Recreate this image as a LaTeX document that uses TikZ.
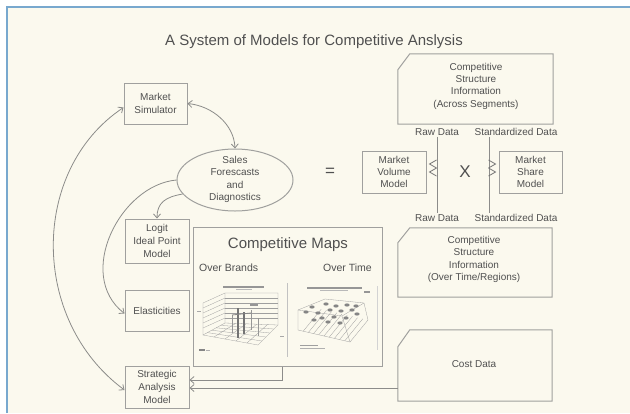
\documentclass[tikz,border=0pt]{standalone}
\usepackage{fontspec}
\setmainfont{Liberation Sans}
\usetikzlibrary{arrows.meta,calc,shapes.geometric}
\definecolor{paper}{RGB}{251,249,238}
\definecolor{frameblue}{RGB}{120,168,206}
\definecolor{ink}{RGB}{80,80,80}
\definecolor{edge}{RGB}{160,160,158}
\definecolor{wire}{RGB}{140,140,138}
\begin{document}
\begin{tikzpicture}[x=1pt,y=-1pt,
  every node/.style={text=ink, font=\fontsize{10}{12.3}\selectfont, inner sep=0pt},
  box/.style={draw=edge, line width=1pt, align=center},
  conn/.style={draw=wire, line width=0.8pt},
  chev/.style={draw=ink!80, line width=0.8pt},
  plot/.style={draw=ink!55, line width=0.3pt},
  blob/.style={fill=ink!70},
  >={Straight Barb[length=4pt,width=7pt]}]

% page and frame
\useasboundingbox (0,0) rectangle (630,413);
\fill[white] (0,0) rectangle (630,413);
\fill[paper] (7,7) rectangle (630,413);
\draw[frameblue, line width=1.6pt] (7,413) -- (7,7) -- (630,7);

% title
\node[font=\fontsize{15}{18}\selectfont] (title) at (314,42) {A System of Models for Competitive Anslysis};

% left column of models
\node[box, minimum width=63pt, minimum height=41pt] (ms) at (155.5,103.5) {Market\\Simulator};
\node[box, ellipse, minimum width=116pt, minimum height=62pt] (sf) at (235,180) {};
\node[align=center] (sftext) at (235,179.5) {Sales\\Forescasts\\and\\Diagnostics};
\node[box, minimum width=64pt, minimum height=44pt, font=\fontsize{10}{13}\selectfont] (lip) at (157,241) {Logit\\Ideal Point\\Model};
\node[box, minimum width=64pt, minimum height=41pt] (el) at (157,310.5) {Elasticities};
\node[box, minimum width=64pt, minimum height=42pt, font=\fontsize{10}{12.8}\selectfont] (sa) at (157,387) {Strategic\\Analysis\\Model};

% competitive maps panel
\node[box, minimum width=189pt, minimum height=139pt] (maps) at (287.5,296.5) {};
\node[font=\fontsize{15}{18}\selectfont] (mapstitle) at (288,245) {Competitive Maps};
\node[font=\fontsize{10.5}{12}\selectfont, anchor=west] (brands) at (199,268) {Over Brands};
\node[font=\fontsize{10.5}{12}\selectfont, anchor=east] (times) at (372,268) {Over Time};
\draw[plot, draw=ink!35, line width=0.5pt] (287,283) -- (287,357);
\draw[plot, draw=ink!25, line width=0.4pt] (377,286) -- (377,350);

% over brands: 3-D bar plot
\fill[ink!60] (223,286) rectangle (264,287.5);
\fill[ink!40] (236,289) rectangle (252,290);
\draw[plot] (203,303) -- (225,293) -- (278,293) -- (278,325) -- (258,345) -- (203,335) -- cycle;
\draw[plot] (225,293) -- (225,323) -- (203,335);
\draw[plot] (225,323) -- (278,325);
\foreach \k in {5,10,...,25} {
  \draw[plot] (225,293+\k) -- (278,293+\k);
  \draw[plot] (203,303+\k) -- (225,293+\k);
}
\foreach \t in {0.2,0.4,0.6,0.8} {
  \draw[plot] ($(225,323)!\t!(278,325)$) -- ($(203,335)!\t!(258,345)$);
  \draw[plot] ($(203,335)!\t!(225,323)$) -- ($(258,345)!\t!(278,325)$);
}
\draw[ink!80, line width=1.1pt] (238,308) -- (238,338);
\draw[ink!80, line width=1.1pt] (244,312) -- (244,334);
\draw[ink!60, line width=0.8pt] (232,315) -- (232,333);
\draw[ink!60, line width=0.8pt] (251,310) -- (251,330);
\draw[ink!60, line width=0.8pt] (258,318) -- (258,336);
\draw[ink!70, line width=0.8pt] (232,315) -- (251,313);
\fill[ink!60] (250,304) rectangle (258,306);
\fill[ink!70] (199,349) rectangle (205,351);
\fill[ink!45] (206,350) rectangle (210,351);
\fill[ink!50] (197,311) rectangle (201,312);
\fill[ink!50] (280,336) rectangle (284,337);

% over time: surface plot
\fill[ink!60] (307,287) rectangle (362,288.5);
\fill[ink!40] (320,290) rectangle (348,291);
\fill[ink!60] (364,291) rectangle (370,293);
\draw[plot] (298,310) -- (325,299) -- (364,303) -- (368,320) -- (350,342) -- (298,330) -- cycle;
\draw[plot] (298,310) -- (342,316) -- (364,303);
\draw[plot] (342,316) -- (350,342);
\foreach \t in {0.1,0.2,...,0.9} {
  \draw[plot] ($(298,330)!\t!(350,342)$) -- ++(18,-22);
}
\foreach \p in {(306,312),(312,307),(318,313),(326,304),(330,310),(336,306),(341,311),(347,305),(352,310),(322,318),(334,317),(346,318),(356,306),(314,320),(328,322),(340,323),(357,314)} {
  \fill[ink!70] \p ellipse (2.6pt and 1.6pt);
}
\fill[ink!55] (300,345) rectangle (318,346);
\fill[ink!45] (300,348) rectangle (325,349);

% share and volume models
\node[font=\fontsize{17}{18}\selectfont] (eq) at (330,172) {=};
\node[box, minimum width=64pt, minimum height=42pt] (mv) at (394,172) {Market\\Volume\\Model};
\node[font=\fontsize{17}{18}\selectfont] (times) at (465,172) {X};
\node[box, minimum width=63pt, minimum height=42pt] (msh) at (530.5,172) {Market\\Share\\Model};

% competitive structure information sources
\node[minimum width=155pt, minimum height=70pt] (csa) at (475.5,89) {};
\draw[draw=edge, line width=1pt] ($(csa.north west)+(0,16)$) -- ($(csa.north west)+(12,0)$) -- (csa.north east) -- (csa.south east) -- (csa.south west) -- cycle;
\node[align=center] (csatext) at (476,86) {Competitive\\Structure\\Information\\(Across Segments)};

\node[minimum width=154pt, minimum height=69pt] (csb) at (475,262.5) {};
\draw[draw=edge, line width=1pt] ($(csb.north west)+(0,15)$) -- ($(csb.north west)+(12,0)$) -- (csb.north east) -- (csb.south east) -- (csb.south west) -- cycle;
\node[align=center] (csbtext) at (474,259.5) {Competitive\\Structure\\Information\\(Over Time/Regions)};

\node[minimum width=154pt, minimum height=71pt] (cd) at (475,365.5) {};
\draw[draw=edge, line width=1pt] ($(cd.north west)+(0,17)$) -- ($(cd.north west)+(12,0)$) -- (cd.north east) -- (cd.south east) -- (cd.south west) -- cycle;
\node (cdtext) at (474,364) {Cost Data};

% data labels
\node (rawA) at (437,132) {Raw Data};
\node (stdA) at (516,132) {Standardized Data};
\node (rawB) at (437,218) {Raw Data};
\node (stdB) at (516,218) {Standardized Data};

% data feeds into the two models
\draw[conn] ([yshift=-1pt]rawA.south) -- ([yshift=1pt]rawB.north);
\draw[conn] ([xshift=-27pt,yshift=-1pt]stdA.south) -- ([xshift=-27pt,yshift=1pt]stdB.north);
\coordinate (vin) at ($(mv.east)+(3,-8)$);
\coordinate (sin) at ($(msh.west)+(-3,-8)$);
\draw[chev] ($(vin)+(7,-4)$) -- (vin) -- ($(vin)+(7,4)$);
\draw[chev] ($(vin)+(7,4)$) -- ($(vin)+(0,8)$) -- ($(vin)+(7,12)$);
\draw[chev] ($(sin)+(-7,-4)$) -- (sin) -- ($(sin)+(-7,4)$);
\draw[chev] ($(sin)+(-7,4)$) -- ($(sin)+(0,8)$) -- ($(sin)+(-7,12)$);

% links between the models
\draw[conn,<->] (ms.east) .. controls (212,106) and (234,124) .. (sf.north);
\draw[conn,<->] ($(ms.west)+(0,4)$) .. controls (30,170) and (30,320) .. ($(sa.west)+(0,3)$);
\draw[conn,->] (sf.west) .. controls (120,185) and (75,275) .. ($(el.west)+(0,3)$);
\draw[conn,->] (sf.195) .. controls (165,197) and (157,203) .. (lip.north);
\draw[conn,->] ([xshift=-5.5pt]maps.south) |- ([yshift=7pt]sa.east);
\coordinate (cdout) at ([yshift=-22.5pt]cd.west);
\draw[conn,->] (cdout) -- (cdout -| sa.east);
\end{tikzpicture}
\end{document}
